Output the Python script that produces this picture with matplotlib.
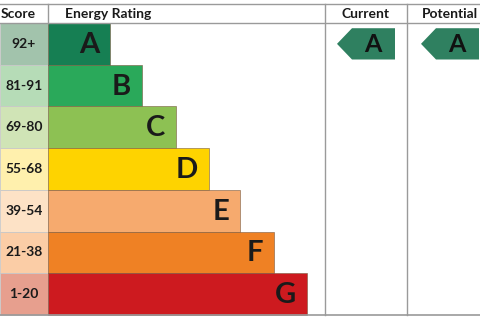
import numpy as np
import matplotlib.pyplot as plt
from matplotlib.patches import Polygon

# chart data
ratings = ["A", "B", "C", "D", "E", "F", "G"]
scores = ["92+", "81-91", "69-80", "55-68", "39-54", "21-38", "1-20"]
bar_ends = [110, 142, 176, 209, 240, 274, 307]
bar_colors = ["#167f53", "#2aa95a", "#8dc153", "#fed300",
              "#f6aa6e", "#ef8124", "#cd1a1f"]
score_colors = ["#a2c3ac", "#b6dcb7", "#d0e4b6", "#fff0ad",
                "#fde2c6", "#fbcda6", "#e79f8e"]
current_rating = "A"
potential_rating = "A"

plt.rcParams['font.family'] = ['Lato', 'DejaVu Sans']

# layout in pixels
W, H = 480, 320
top_line = 4
header_bottom = 23
bottom_line = 315
score_right = 48
col_current = 325
col_potential = 407
row_h = (bottom_line - header_bottom) / len(ratings)
line_col = "#9a9a9a"

fig = plt.figure(figsize=(4.8, 3.2), dpi=100)
ax = fig.add_axes([0, 0, 1, 1])
ax.set_xlim(0, W)
ax.set_ylim(H, 0)
ax.axis("off")

y_centres = header_bottom + row_h * (np.arange(len(ratings)) + 0.5)

# score cells
ax.barh(y_centres, score_right, height=row_h, left=0,
        color=score_colors, edgecolor="#c8c8c8", linewidth=0.6)
for y, s in zip(y_centres, scores):
    ax.text(score_right / 2, y, s, ha="center", va="center",
            fontsize=10, fontweight="bold", color="#1a1a1a")

# rating bars
widths = np.array(bar_ends) - score_right
ax.barh(y_centres, widths, height=row_h, left=score_right,
        color=bar_colors, edgecolor="#7a5a40", linewidth=0.4)
for y, r, end in zip(y_centres, ratings, bar_ends):
    ax.text(end - 11, y + 1, r, ha="right", va="center",
            fontsize=21, fontweight="bold", color="#1a1a1a")

# grid lines
ax.plot([0, W], [top_line, top_line], color=line_col, lw=1)
ax.plot([0, W], [header_bottom, header_bottom], color=line_col, lw=1)
ax.plot([0, W], [bottom_line, bottom_line], color=line_col, lw=1.2)
ax.plot([score_right, score_right], [top_line, header_bottom], color=line_col, lw=1)
for x in (col_current, col_potential):
    ax.plot([x, x], [top_line, bottom_line], color=line_col, lw=1)

# headers
hy = (top_line + header_bottom) / 2 + 1
ax.text(score_right / 2 - 6, hy, "Score", ha="center", va="center",
        fontsize=10, fontweight="bold", color="#1a1a1a")
ax.text(65, hy, "Energy Rating", ha="left", va="center",
        fontsize=10, fontweight="bold", color="#1a1a1a")
ax.text((col_current + col_potential) / 2, hy, "Current", ha="center",
        va="center", fontsize=10, fontweight="bold", color="#1a1a1a")
ax.text(450, hy, "Potential", ha="center", va="center",
        fontsize=10, fontweight="bold", color="#1a1a1a")


def draw_arrow(x_left, rating):
    i = ratings.index(rating)
    yc = y_centres[i]
    half = row_h * 0.375
    pts = [(x_left, yc), (x_left + 15, yc - half), (x_left + 58, yc - half),
           (x_left + 58, yc + half), (x_left + 15, yc + half)]
    ax.add_patch(Polygon(pts, closed=True, facecolor="#2f8060",
                         edgecolor="none"))
    ax.text(x_left + 36, yc + 1, rating, ha="center", va="center",
            fontsize=18, fontweight="bold", color="#111111")


draw_arrow(col_current + 12, current_rating)
draw_arrow(col_potential + 14, potential_rating)

fig.savefig("out.png", dpi=100)
